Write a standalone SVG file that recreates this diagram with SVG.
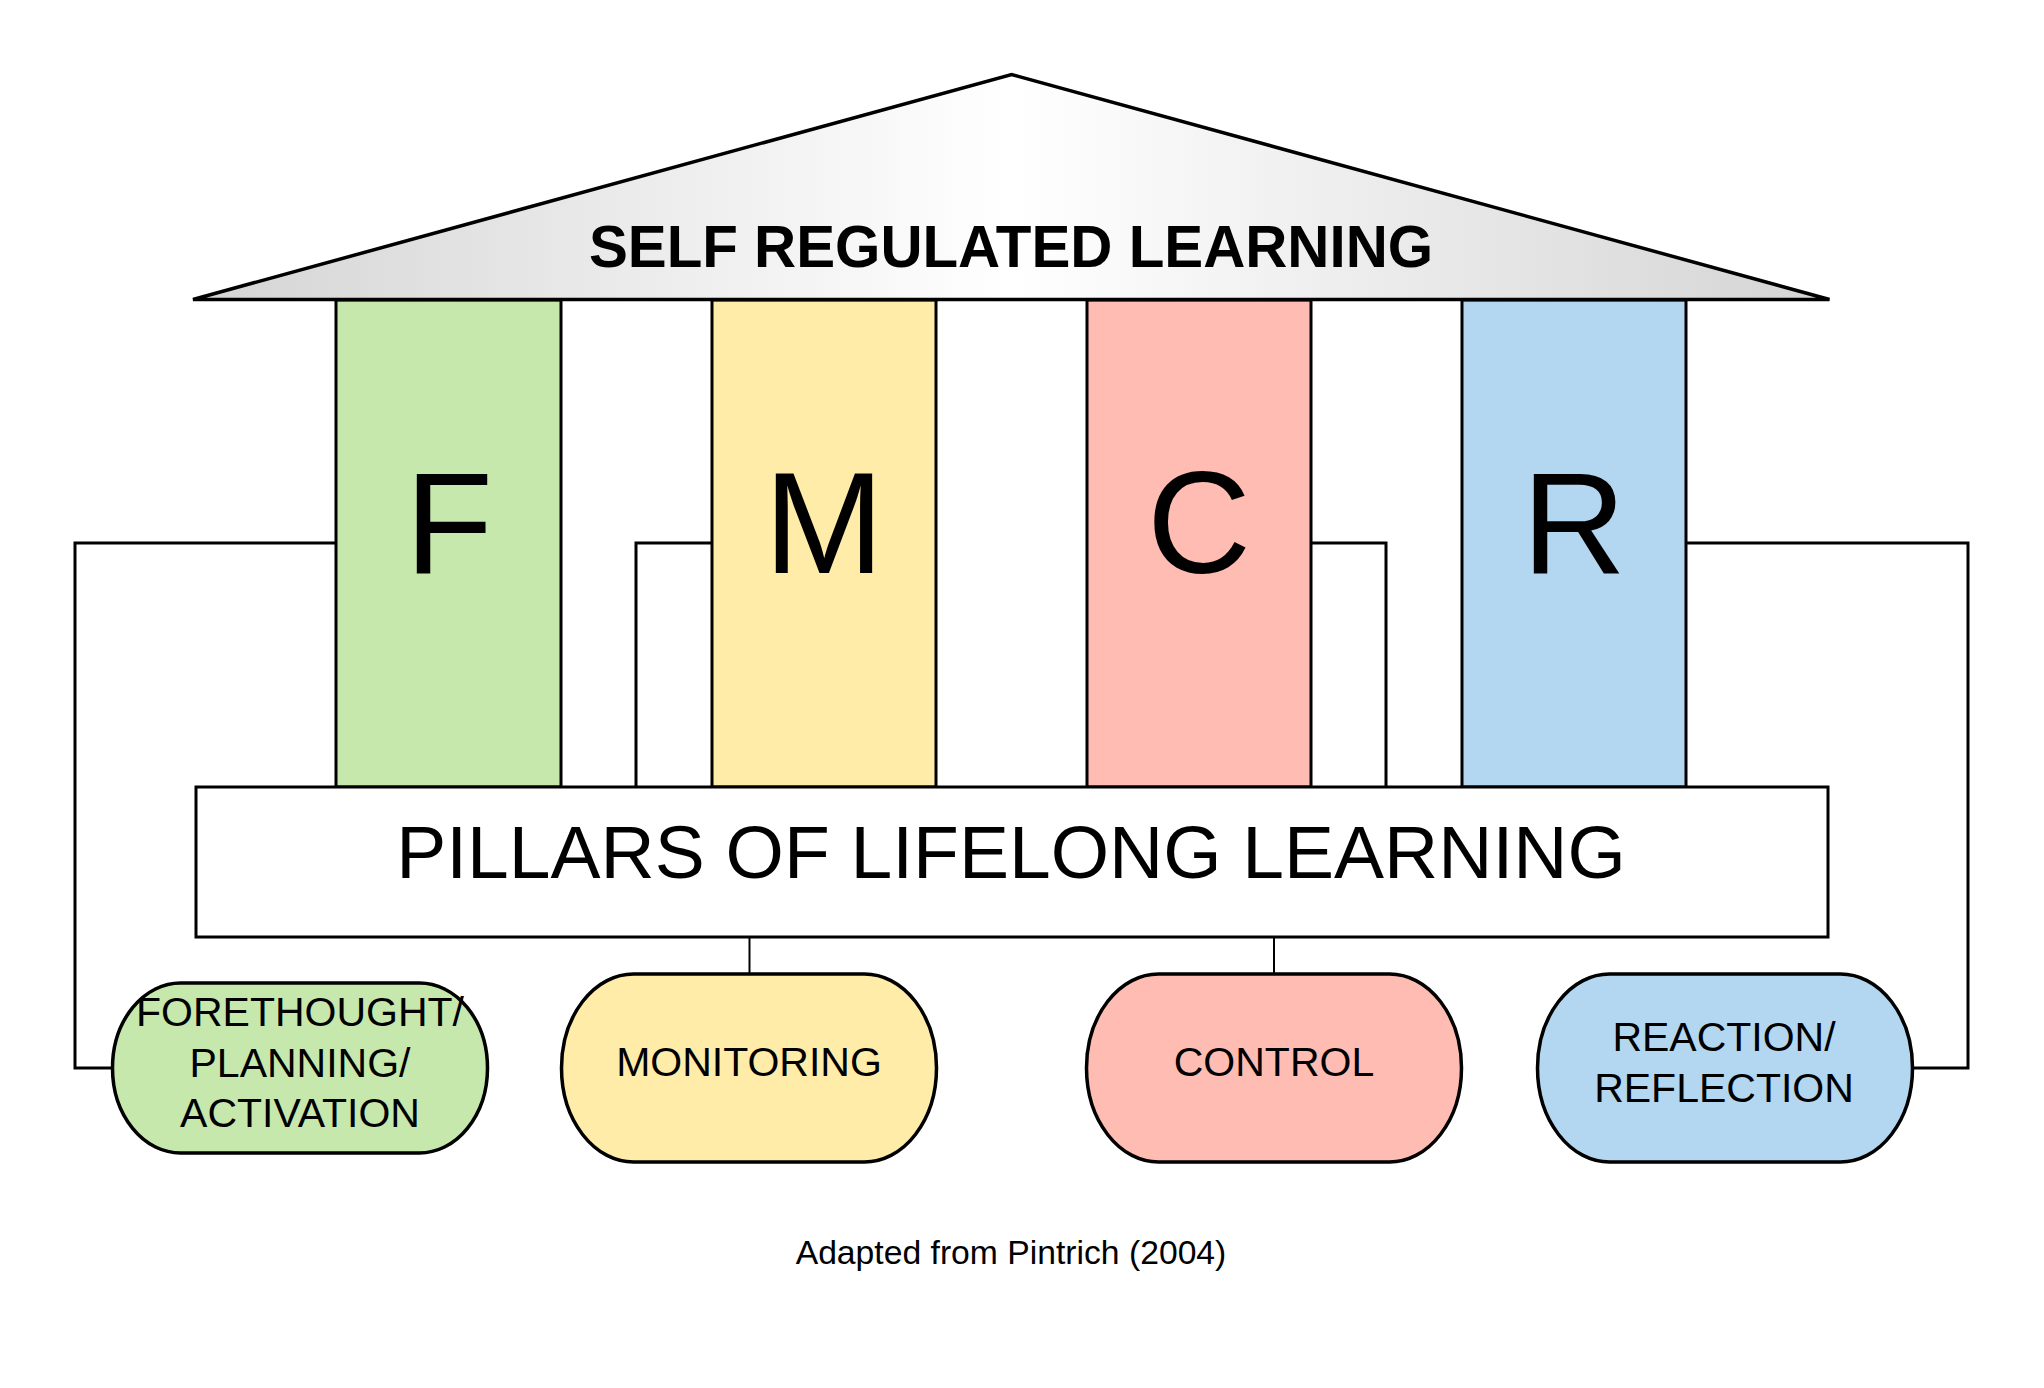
<svg xmlns="http://www.w3.org/2000/svg" width="2044" height="1388" viewBox="0 0 2044 1388">
<defs>
<linearGradient id="roofGrad" x1="0" y1="0" x2="1" y2="0">
<stop offset="0" stop-color="#d4d4d4"/>
<stop offset="0.5" stop-color="#ffffff"/>
<stop offset="1" stop-color="#d4d4d4"/>
</linearGradient>
<style>
.ln{fill:none;stroke:#000;stroke-width:3;stroke-linejoin:miter}
.thin{fill:none;stroke:#000;stroke-width:2}
.col{stroke:#000;stroke-width:3}
.shape{stroke:#000;stroke-width:3.5}
.t{font-family:"Liberation Sans",Arial,sans-serif;fill:#000;text-anchor:middle}
.big{font-size:144px}
.lbl{font-size:41px}
</style>
</defs>
<rect width="2044" height="1388" fill="#ffffff"/>
<g id="connectors">
<polyline class="ln" points="336,543 75,543 75,1068 112,1068"/>
<polyline class="ln" points="712,543 636,543 636,787"/>
<polyline class="ln" points="1311,543 1386,543 1386,787"/>
<polyline class="ln" points="1686,543 1968,543 1968,1068 1912,1068"/>
<line class="thin" x1="749.5" y1="937" x2="749.5" y2="974"/>
<line class="thin" x1="1274" y1="937" x2="1274" y2="974"/>
</g>
<g id="col-F">
<rect class="col" x="336" y="300" width="225" height="487" fill="#c7e8ac"/>
<text class="t big" x="449" y="573">F</text>
</g>
<g id="col-M">
<rect class="col" x="712" y="300" width="224" height="487" fill="#ffeca8"/>
<text class="t big" x="824" y="573">M</text>
</g>
<g id="col-C">
<rect class="col" x="1087" y="300" width="224" height="487" fill="#ffbcb2"/>
<text class="t big" x="1199" y="573">C</text>
</g>
<g id="col-R">
<rect class="col" x="1462" y="300" width="224" height="487" fill="#b3d7f0"/>
<text class="t big" x="1574" y="573">R</text>
</g>
<g id="roof">
<polygon points="193,299.5 1011.6,74.5 1829.5,299.5" fill="url(#roofGrad)" stroke="#000" stroke-width="3.5" stroke-linejoin="miter"/>
<text class="t" x="1011" y="267" font-size="58.3" font-weight="bold">SELF REGULATED LEARNING</text>
</g>
<g id="pillars">
<rect x="196" y="787" width="1632" height="150" fill="#ffffff" stroke="#000" stroke-width="3"/>
<text class="t" x="1011" y="878" font-size="75">PILLARS OF LIFELONG LEARNING</text>
</g>
<g id="forethought">
<rect class="shape" x="112.5" y="983" width="375" height="170" rx="68" ry="85" fill="#c7e8ac"/>
<text class="t lbl" x="300" y="1026">FORETHOUGHT/</text>
<text class="t lbl" x="300" y="1077">PLANNING/</text>
<text class="t lbl" x="300" y="1127">ACTIVATION</text>
</g>
<g id="monitoring">
<rect class="shape" x="561.5" y="974" width="375" height="188" rx="72" ry="94" fill="#ffeca8"/>
<text class="t lbl" x="749" y="1076">MONITORING</text>
</g>
<g id="control">
<rect class="shape" x="1086.5" y="974" width="375" height="188" rx="72" ry="94" fill="#ffbcb2"/>
<text class="t lbl" x="1274" y="1076">CONTROL</text>
</g>
<g id="reaction">
<rect class="shape" x="1537.5" y="974" width="375" height="188" rx="72" ry="94" fill="#b3d7f0"/>
<text class="t lbl" x="1724" y="1051">REACTION/</text>
<text class="t lbl" x="1724" y="1102">REFLECTION</text>
</g>
<g id="caption">
<text class="t" x="1011" y="1264" font-size="33.7">Adapted from Pintrich (2004)</text>
</g>
</svg>
